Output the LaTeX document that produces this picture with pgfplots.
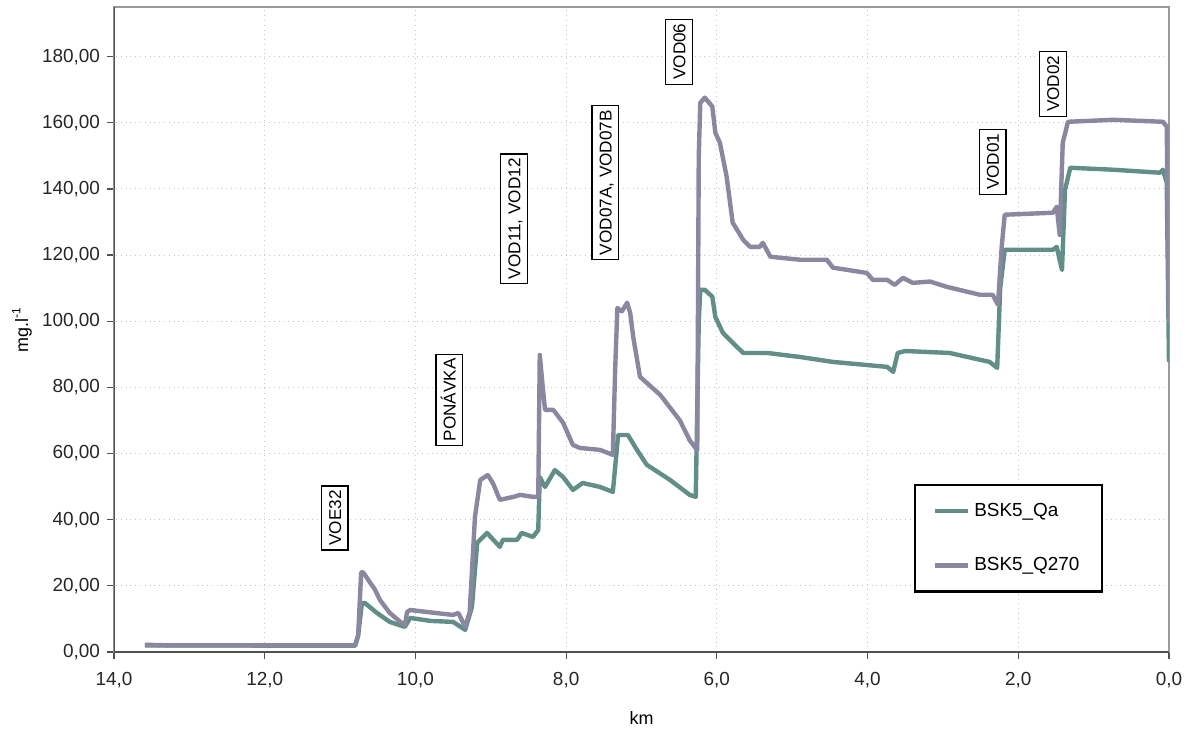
\documentclass[border=0pt]{standalone}
\usepackage{pgfplots}
\pgfplotsset{compat=1.18}
\usepackage{fontspec}
\setmainfont{Liberation Sans}
\definecolor{cQa}{HTML}{5F8F87}
\definecolor{cQb}{HTML}{8A87A0}
\definecolor{axdark}{HTML}{505050}
\definecolor{axlight}{HTML}{9A9A9A}
\begin{document}
\begin{tikzpicture}
\useasboundingbox (-57bp,-39.5bp) rectangle (539bp,326bp);
\begin{axis}[
  scale only axis, width=527.5bp, height=322.5bp,
  x dir=reverse,
  xmin=0, xmax=14, ymin=0, ymax=195,
  xtick={0,2,...,14}, ytick={0,20,...,180},
  tick pos=left, tick align=outside,
  major tick length=3.5bp,
  tick style={axdark, line width=0.6bp},
  axis line style={axlight, line width=1bp},
  grid=major,
  major grid style={dotted, gray!45, line width=0.5bp},
  yticklabel style={/pgf/number format/.cd, fixed, fixed zerofill, use comma, 1000 sep={}, assume math mode=true, precision=2, /tikz/.cd, font=\fontsize{9.5}{10}\selectfont, text=black!85},
  xticklabel style={/pgf/number format/.cd, fixed, fixed zerofill, use comma, 1000 sep={}, assume math mode=true, precision=1, /tikz/.cd, font=\fontsize{9.5}{10}\selectfont, text=black!85, yshift=-3bp},
  xlabel={km},
  ylabel={mg.l\textsuperscript{-1}},
  xlabel style={at={(axis description cs:0.5,-0.102)}, anchor=center, font=\fontsize{9}{10}\selectfont},
  ylabel style={at={(axis description cs:-0.0872,0.5)}, anchor=center, font=\fontsize{9}{10}\selectfont},
  legend style={at={(axis description cs:0.758,0.2605)}, anchor=north west,
    draw=black, line width=1.2bp, inner xsep=9bp, inner ysep=7bp,
    row sep=15bp, font=\fontsize{9.5}{10}\selectfont, cells={anchor=west}},
  legend image code/.code={\draw[#1, line width=2.2bp] (0bp,0bp) -- (16.5bp,0bp);},
]
\addplot[cQa, line width=2.2bp, line join=round] coordinates {
(13.59,2.0) (12.8,2.0) (11.5,1.9) (10.80,1.9) (10.76,5) (10.71,14.8) (10.67,14.8)
(10.51,11.8) (10.34,9.1) (10.14,7.6) (10.07,10.3) (9.80,9.4) (9.50,9.1) (9.34,6.7)
(9.25,13.6) (9.18,33) (9.05,36) (8.88,31.8) (8.84,33.9) (8.65,33.9) (8.59,36)
(8.44,34.8) (8.37,36.9) (8.35,52.9) (8.28,49.9) (8.15,55) (8.04,52.9) (7.91,49)
(7.78,51.1) (7.55,49.9) (7.38,48.4) (7.31,65.6) (7.18,65.6) (7.06,61.1) (6.93,56.6)
(6.62,52) (6.36,47.5) (6.28,46.9) (6.24,100) (6.22,109.5) (6.16,109.5) (6.06,107.4)
(6.02,101.3) (5.92,96.5) (5.79,93.5) (5.65,90.4) (5.33,90.4) (4.90,89.2) (4.46,87.7)
(3.74,86.2) (3.66,84.7) (3.60,90.4) (3.50,91) (2.91,90.4) (2.38,87.7) (2.28,85.9)
(2.24,110) (2.18,121.6) (1.54,121.6) (1.49,122.5) (1.42,115.5) (1.38,139.7) (1.31,146.4)
(0.74,145.8) (0.12,144.9) (0.08,145.8) (0.03,141.9) (0.0,87.7)
};
\addlegendentry{\makebox[53bp][l]{BSK5\_Qa}}
\addplot[cQb, line width=2.2bp, line join=round] coordinates {
(13.59,2.2) (13.28,2.0) (12.0,2.0) (10.80,2.0) (10.76,5) (10.72,24.0) (10.70,24.2)
(10.66,23) (10.60,20.9) (10.54,19) (10.47,15.7) (10.34,11.8) (10.20,9.1) (10.14,8.2)
(10.11,12.1) (10.07,12.7) (9.81,12.0) (9.50,11.2) (9.43,11.8) (9.34,7.6) (9.28,12)
(9.21,40.8) (9.14,52) (9.04,53.5) (8.97,51) (8.88,46) (8.70,46.9) (8.61,47.5)
(8.44,46.9) (8.37,47) (8.35,89.8) (8.31,80) (8.28,73.2) (8.17,73.2) (8.04,69.3)
(7.91,62.6) (7.82,61.7) (7.55,61.1) (7.38,59.6) (7.35,85) (7.32,104) (7.26,103)
(7.19,105.6) (7.15,102.5) (7.11,95.3) (7.02,83.2) (6.75,77.7) (6.49,70) (6.36,64)
(6.26,61) (6.24,150) (6.22,166) (6.16,167.6) (6.06,164.9) (6.02,157) (5.96,154)
(5.87,143.7) (5.79,129.8) (5.65,124.6) (5.56,122.5) (5.43,122.5) (5.39,123.7)
(5.29,119.5) (4.90,118.6) (4.54,118.6) (4.46,116.2) (4.01,114.6) (3.93,112.5)
(3.74,112.5) (3.64,111) (3.53,113.1) (3.40,111.6) (3.17,112) (2.95,110.4) (2.51,108)
(2.34,108) (2.27,105) (2.22,122.5) (2.18,132.2) (1.54,132.8) (1.49,134.6) (1.45,126.1)
(1.41,154) (1.34,160.3) (0.74,160.9) (0.08,160.3) (0.03,158.8) (0.0,99.5)
};
\addlegendentry{\makebox[53bp][l]{BSK5\_Q270}}
\draw[axdark, line width=1bp] (rel axis cs:0,1) -- (rel axis cs:0,0) -- (rel axis cs:1,0);
\tikzset{lab/.style={draw=black, line width=0.6bp, fill=white, rotate=90, inner xsep=2.2bp, inner ysep=3.5bp, text height=6.3bp, text depth=0bp, font=\fontsize{8.6}{9}\selectfont}}
\node[lab] at (axis cs:11.07,40.5) {VOE32};
\node[lab] at (axis cs:9.55,76.2) {PONÁVKA};
\node[lab] at (axis cs:8.69,131) {VOD11, VOD12};
\node[lab] at (axis cs:7.48,141.9) {VOD07A, VOD07B};
\node[lab] at (axis cs:6.50,181.5) {VOD06};
\node[lab] at (axis cs:2.34,148.2) {VOD01};
\node[lab] at (axis cs:1.54,171.8) {VOD02};
\end{axis}
\end{tikzpicture}
\end{document}
